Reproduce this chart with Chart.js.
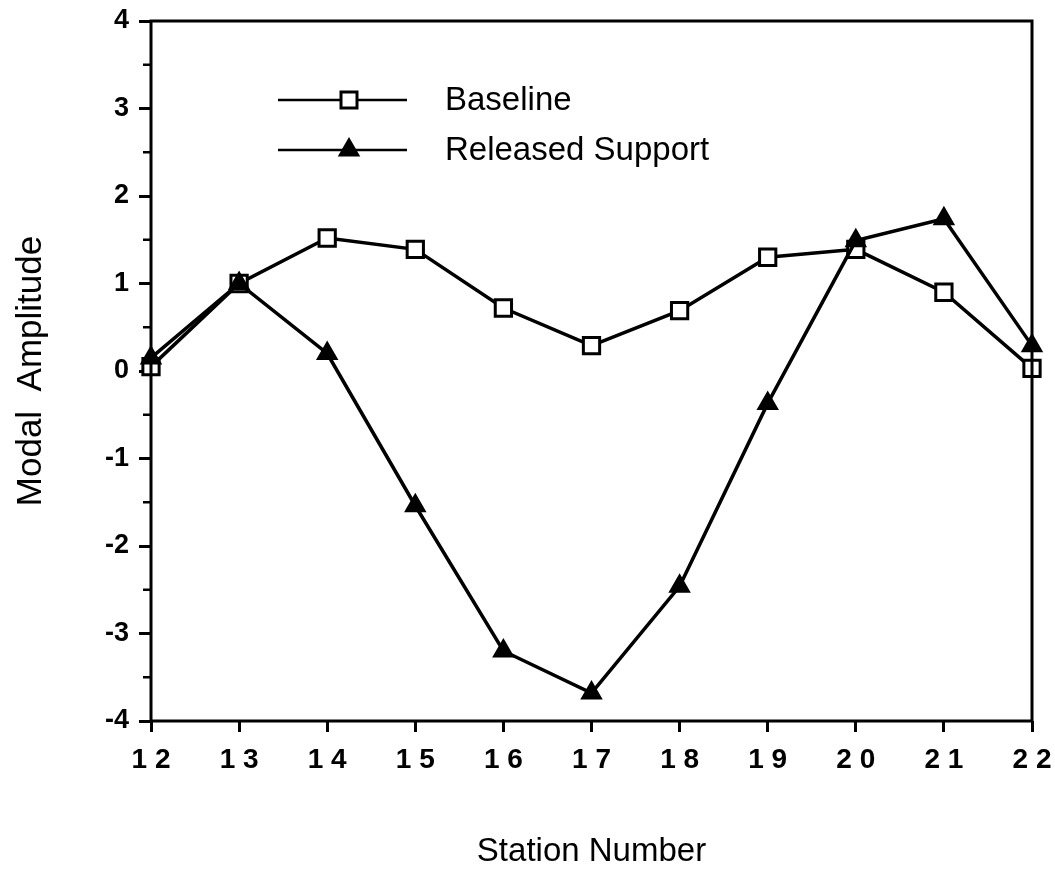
<!DOCTYPE html>
<html>
<head>
<meta charset="utf-8">
<script src="https://cdn.jsdelivr.net/npm/chart.js@4.4.0/dist/chart.umd.min.js"></script>
<style>
  body { margin: 0; background: #fff; }
</style>
</head>
<body>
<canvas id="chart" width="1055" height="870"></canvas>
<script>
// station numbers along the x axis
var stations = [12, 13, 14, 15, 16, 17, 18, 19, 20, 21, 22];

// modal amplitude
var baseline = [0.05, 1.0, 1.52, 1.39, 0.72, 0.29, 0.69, 1.30, 1.39, 0.90, 0.03];
var releasedSupport = [0.15, 1.0, 0.2, -1.54, -3.2, -3.68, -2.46, -0.37, 1.49, 1.74, 0.29];

var seriesNames = ['Baseline', 'Released Support'];

var fontFamily = "'Liberation Sans', Arial, Helvetica, sans-serif";

function toPoints(values) {
    return stations.map(function (s, i) { return { x: s, y: values[i] }; });
}

// box round the plot area + short minor ticks on y
var frameBox = {
    id: 'frameBox',
    afterDatasetsDraw: function (chart) {
        var ctx = chart.ctx;
        var a = chart.chartArea;
        var yScale = chart.scales.y;
        ctx.save();
        ctx.strokeStyle = '#000';
        ctx.lineWidth = 3;
        ctx.strokeRect(a.left, a.top, a.right - a.left, a.bottom - a.top);

        // minor ticks half way between the labelled ones
        ctx.lineWidth = 2.5;
        for (var v = yScale.min + 0.5; v < yScale.max; v += 1) {
            var py = yScale.getPixelForValue(v);
            ctx.beginPath();
            ctx.moveTo(a.left - 8, py);
            ctx.lineTo(a.left, py);
            ctx.stroke();
        }
        ctx.restore();
    }
};

// legend inside the plot: line with the marker in the middle, then the name
var innerLegend = {
    id: 'innerLegend',
    afterDraw: function (chart) {
        var ctx = chart.ctx;
        var a = chart.chartArea;
        var rows = [a.top + 79, a.top + 129];
        ctx.save();
        chart.data.datasets.forEach(function (ds, i) {
            var y = rows[i];
            var x0 = a.left + 127, x1 = a.left + 256, xm = a.left + 198;
            ctx.strokeStyle = '#000';
            ctx.lineWidth = 2.5;
            ctx.beginPath();
            ctx.moveTo(x0, y);
            ctx.lineTo(x1, y);
            ctx.stroke();

            ctx.fillStyle = ds.pointBackgroundColor;
            ctx.lineWidth = ds.pointBorderWidth;
            if (ds.pointStyle === 'rect') {
                ctx.fillRect(xm - 8, y - 8, 16, 16);
                ctx.strokeRect(xm - 8, y - 8, 16, 16);
            } else {
                var r = ds.pointRadius;
                ctx.beginPath();
                ctx.moveTo(xm, y - r);
                ctx.lineTo(xm + r * 0.866, y + r * 0.5);
                ctx.lineTo(xm - r * 0.866, y + r * 0.5);
                ctx.closePath();
                ctx.fill();
                ctx.stroke();
            }

            ctx.fillStyle = '#000';
            ctx.font = '33px ' + fontFamily;
            ctx.textAlign = 'left';
            ctx.textBaseline = 'middle';
            ctx.fillText(ds.label, a.left + 294, y + 1);
        });
        ctx.restore();
    }
};

var chart = new Chart(document.getElementById('chart'), {
    type: 'line',
    data: {
        datasets: [{
            label: seriesNames[0],
            data: toPoints(baseline),
            borderColor: '#000',
            borderWidth: 3.5,
            pointStyle: 'rect',
            pointRadius: 11.5,
            pointBorderWidth: 3,
            pointBorderColor: '#000',
            pointBackgroundColor: '#fff',
            tension: 0,
            clip: false,
            order: 2
        }, {
            label: seriesNames[1],
            data: toPoints(releasedSupport),
            borderColor: '#000',
            borderWidth: 3.5,
            pointStyle: 'triangle',
            pointRadius: 11,
            pointBorderWidth: 2,
            pointBorderColor: '#000',
            pointBackgroundColor: '#000',
            tension: 0,
            clip: false,
            order: 1
        }]
    },
    options: {
        responsive: false,
        animation: false,
        layout: { padding: { top: 21, right: 23, left: 0, bottom: 0 } },
        plugins: {
            legend: { display: false },
            tooltip: { enabled: false }
        },
        scales: {
            x: {
                type: 'linear',
                min: 12,
                max: 22,
                afterFit: function (scale) {
                    scale.height = 149;
                    scale.paddingLeft = 0;
                    scale.paddingRight = 0;
                },
                ticks: {
                    stepSize: 1,
                    color: '#000',
                    padding: 11,
                    maxRotation: 0,
                    font: { family: fontFamily, size: 28, weight: 'bold' },
                    callback: function (v) { return String(v).split('').join(' '); }
                },
                grid: {
                    drawOnChartArea: false,
                    tickLength: 11,
                    tickWidth: 3,
                    tickColor: '#000'
                },
                border: { display: false },
                title: {
                    display: true,
                    text: 'Station Number',
                    color: '#000',
                    font: { family: fontFamily, size: 33, lineHeight: 1 },
                    padding: { top: 0, bottom: 2 }
                }
            },
            y: {
                min: -4,
                max: 4,
                afterFit: function (scale) {
                    scale.width = 151;
                    scale.paddingTop = 0;
                    scale.paddingBottom = 0;
                },
                ticks: {
                    stepSize: 1,
                    color: '#000',
                    padding: 10,
                    font: { family: fontFamily, size: 27, weight: 'bold' }
                },
                grid: {
                    drawOnChartArea: false,
                    tickLength: 12,
                    tickWidth: 3,
                    tickColor: '#000'
                },
                border: { display: false },
                title: {
                    display: true,
                    text: 'Modal  Amplitude',
                    color: '#000',
                    font: { family: fontFamily, size: 35, lineHeight: 1.2 },
                    padding: { top: 10, bottom: 0 }
                }
            }
        }
    },
    plugins: [frameBox, innerLegend]
});
</script>
</body>
</html>
